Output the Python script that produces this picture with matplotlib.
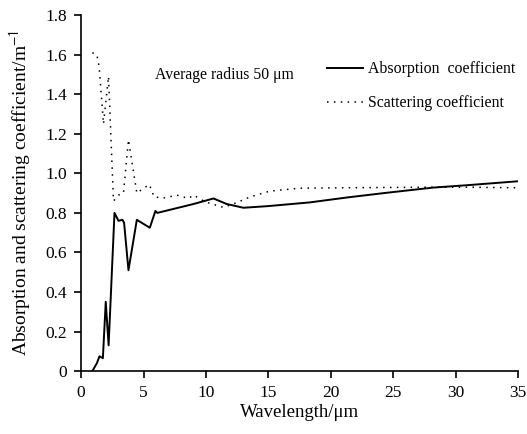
import numpy as np
import matplotlib
matplotlib.use("Agg")
import matplotlib.pyplot as plt

plt.rcParams["font.family"] = ["Liberation Serif", "DejaVu Serif"]
plt.rcParams["mathtext.fontset"] = "stix"

# absorption coefficient (solid)
abs_wl = [0.9, 1.26, 1.47, 1.74, 1.97, 2.2, 2.67, 2.99, 3.31, 3.44, 3.79,
          4.46, 5.5, 5.95, 6.1, 9.0, 10.6, 11.66, 13.0, 14.9, 18.3, 21.3,
          24.5, 28.2, 30.9, 35.0]
abs_val = [0.0, 0.04, 0.075, 0.065, 0.35, 0.13, 0.80, 0.76, 0.765, 0.75, 0.51,
           0.765, 0.725, 0.81, 0.80, 0.845, 0.873, 0.845, 0.826, 0.834, 0.853, 0.878,
           0.902, 0.928, 0.940, 0.960]

# scattering coefficient (dotted)
sca_wl = [0.9, 1.26, 1.44, 1.79, 2.19, 2.59, 3.0, 3.39, 3.79, 4.46, 5.0,
          5.47, 5.66, 5.85, 6.73, 7.66, 8.6, 9.0, 9.93, 11.4, 12.47, 13.5,
          15.1, 17.5, 22.9, 28.2, 30.9, 35.0]
sca_val = [1.61, 1.60, 1.54, 1.25, 1.49, 0.86, 0.89, 0.90, 1.17, 0.90, 0.925,
           0.943, 0.91, 0.88, 0.876, 0.89, 0.873, 0.89, 0.856, 0.828, 0.852, 0.88,
           0.91, 0.925, 0.928, 0.93, 0.93, 0.927]

fig = plt.figure(figsize=(5.27, 4.34), dpi=100)
ax = fig.add_axes([0.154, 0.145, 0.829, 0.820])

ax.plot(abs_wl, abs_val, color="black", lw=1.4, label="Absorption  coefficient")
ax.plot(sca_wl, sca_val, color="black", lw=1.1, linestyle=(0, (1, 3.5)),
        label="Scattering coefficient")

ax.set_xlim(0, 35)
ax.set_ylim(0, 1.8)
ax.set_xticks(np.arange(0, 36, 5))
ax.set_yticks(np.arange(0, 1.81, 0.2))
ax.set_yticklabels(["0"] + [f"{v:.1f}" for v in np.arange(0.2, 1.81, 0.2)])

for s in ("top", "right"):
    ax.spines[s].set_visible(False)
for s in ("left", "bottom"):
    ax.spines[s].set_linewidth(1.2)
ax.tick_params(direction="out", length=5, width=1.2, labelsize=12.5, pad=5)

ax.set_xlabel("Wavelength/\u03bcm", fontsize=13.5, labelpad=2)
ax.set_ylabel("Absorption and scattering coefficient/m$^{\\mathsf{-1}}$",
              fontsize=14, labelpad=8)

ax.text(5.9, 1.50, "Average radius 50 \u03bcm", fontsize=11.3, va="center")
ax.legend(loc="center left", bbox_to_anchor=(0.53, 0.80), frameon=False,
          fontsize=11.4, handlelength=2.3, handletextpad=0.3, labelspacing=1.15)

fig.savefig("out.png", dpi=100)
